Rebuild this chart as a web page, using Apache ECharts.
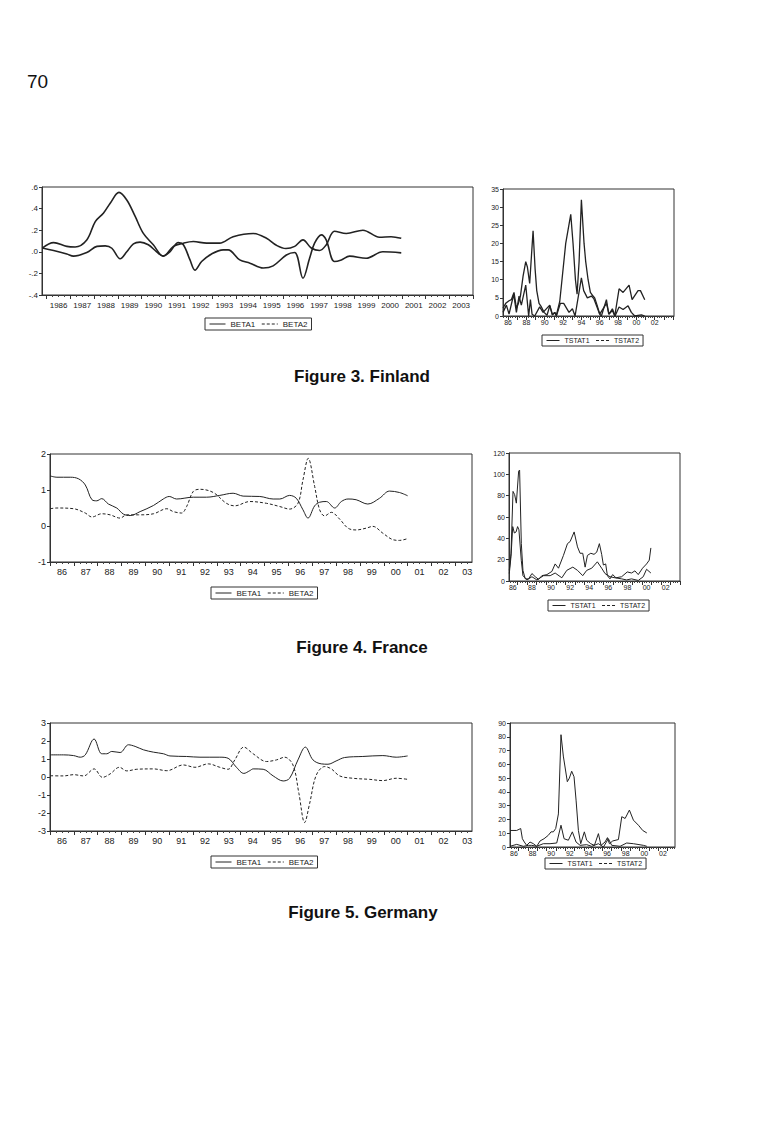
<!DOCTYPE html>
<html>
<head>
<meta charset="utf-8">
<script src="https://cdn.jsdelivr.net/npm/echarts@6/dist/echarts.min.js"></script>
<style>html,body{margin:0;padding:0;background:#fff;}</style>
</head>
<body>
<div id="main" style="width:775px;height:1137px"></div>
<script>
// 年份标签
const longYears = ['1986','1987','1988','1989','1990','1991','1992','1993','1994','1995','1996','1997','1998','1999','2000','2001','2002','2003'];
const shortYears = ['86','87','88','89','90','91','92','93','94','95','96','97','98','99','00','01','02','03'];
const tstatYears = ['86','88','90','92','94','96','98','00','02'];

// Figure 3. Finland
const finBeta1 = [[1985.81,0.035],[1986.29,0.085],[1986.85,0.05],[1987.2,0.045],[1987.69,0.11],[1988.05,0.28],[1988.4,0.36],[1988.68,0.45],[1989.05,0.55],[1989.38,0.48],[1989.73,0.33],[1990.08,0.17],[1990.5,0.065],[1990.92,-0.04],[1991.35,0.05],[1991.77,0.08],[1992.19,0.095],[1992.75,0.08],[1993.3,0.08],[1993.87,0.14],[1994.72,0.17],[1995.28,0.125],[1995.7,0.06],[1996.1,0.03],[1996.47,0.05],[1996.82,0.11],[1997.17,0.035],[1997.52,0.012],[1997.8,0.064],[1998.15,0.19],[1998.65,0.17],[1999.35,0.2],[2000.05,0.135],[2000.54,0.14],[2000.97,0.125]];
const finBeta2 = [[1985.81,0.035],[1986.29,0.012],[1986.85,-0.02],[1987.13,-0.04],[1987.69,-0.007],[1988.12,0.05],[1988.47,0.055],[1988.75,0.033],[1989.1,-0.065],[1989.38,0.0],[1989.66,0.074],[1989.94,0.09],[1990.29,0.065],[1990.64,0.0],[1990.92,-0.04],[1991.2,0.0],[1991.56,0.086],[1991.77,0.065],[1992.05,-0.075],[1992.26,-0.17],[1992.54,-0.09],[1992.96,-0.02],[1993.45,0.018],[1993.66,0.018],[1994.15,-0.075],[1994.58,-0.105],[1995.14,-0.15],[1995.56,-0.13],[1996.12,-0.03],[1996.47,-0.007],[1996.82,-0.245],[1997.1,-0.06],[1997.31,0.08],[1997.6,0.157],[1997.8,0.11],[1998.15,-0.09],[1998.44,-0.075],[1998.79,-0.04],[1999.49,-0.06],[2000.19,0.0],[2000.97,-0.01]];
const finTstat1 = [[1985.45,2.2],[1985.75,3.5],[1986.11,4.2],[1986.36,4.5],[1986.65,6.5],[1986.91,2.2],[1987.13,3.5],[1987.35,5.5],[1987.64,11],[1987.93,15],[1988.11,13.5],[1988.36,9],[1988.73,23.5],[1988.95,13],[1989.13,7],[1989.38,3.5],[1989.64,2.5],[1989.93,1],[1990.25,0.2],[1990.55,2.8],[1990.84,0.3],[1991.09,1],[1991.27,0.2],[1991.64,4],[1992.29,20],[1992.84,28],[1993.09,20],[1993.35,10],[1993.53,6],[1993.75,15],[1994.0,32],[1994.29,20],[1994.47,15],[1994.73,10],[1994.98,6.5],[1995.27,5.5],[1995.45,5],[1995.71,3],[1996.0,0.5],[1996.18,0],[1996.73,4.5],[1996.98,0.5],[1997.38,1.5],[1997.64,0],[1998.11,7.5],[1998.55,6.5],[1999.2,8.5],[1999.53,4.5],[2000.18,7],[2000.44,7],[2000.91,4.5]];
const finTstat2 = [[1985.45,1],[1985.82,3],[1986.11,0.5],[1986.62,6],[1986.91,1],[1987.2,5.5],[1987.45,3],[1987.93,8.5],[1988.25,0],[1988.44,4.5],[1988.62,0.5],[1988.91,0],[1989.45,2.5],[1989.82,1],[1990.55,3],[1990.84,0.3],[1991.09,1],[1991.27,0],[1991.71,3.5],[1992.07,3.5],[1992.65,1],[1993.02,2],[1993.31,0],[1994.0,10.5],[1994.25,7],[1994.65,5],[1995.09,5.5],[1995.35,4.8],[1996.0,0.5],[1996.73,3.5],[1997.02,0.5],[1997.38,2],[1997.67,0],[1998.11,2.5],[1998.55,1.8],[1999.09,2.8],[1999.45,1],[1999.82,0],[2000.55,0.3],[2000.91,0]];

// Figure 4. France
const fraBeta1 = [[1986.01,1.39],[1986.29,1.355],[1986.85,1.355],[1987.2,1.31],[1987.48,1.14],[1987.76,0.73],[1987.96,0.7],[1988.17,0.76],[1988.45,0.61],[1988.8,0.5],[1989.08,0.33],[1989.36,0.29],[1989.78,0.4],[1990.34,0.57],[1990.75,0.75],[1991.0,0.82],[1991.31,0.75],[1992.01,0.8],[1992.57,0.8],[1993.12,0.85],[1993.68,0.91],[1994.1,0.83],[1994.8,0.82],[1995.36,0.75],[1995.64,0.75],[1996.05,0.85],[1996.33,0.77],[1996.61,0.45],[1996.82,0.22],[1997.1,0.56],[1997.31,0.66],[1997.59,0.68],[1997.94,0.5],[1998.22,0.68],[1998.5,0.75],[1998.84,0.73],[1999.33,0.61],[1999.82,0.77],[2000.24,0.97],[2000.66,0.93],[2001.0,0.84]];
const fraBeta2 = [[1986.01,0.48],[1986.29,0.5],[1986.99,0.48],[1987.48,0.36],[1987.76,0.25],[1988.17,0.34],[1988.52,0.31],[1988.94,0.22],[1989.22,0.31],[1989.71,0.31],[1990.34,0.34],[1990.9,0.48],[1991.17,0.4],[1991.52,0.36],[1991.73,0.54],[1992.01,0.96],[1992.29,1.02],[1992.85,0.93],[1993.4,0.63],[1993.75,0.56],[1994.38,0.68],[1995.08,0.63],[1995.64,0.54],[1996.05,0.47],[1996.4,0.63],[1996.61,1.28],[1996.83,1.88],[1997.1,1.1],[1997.31,0.45],[1997.52,0.28],[1997.8,0.38],[1998.15,0.19],[1998.5,-0.06],[1998.84,-0.11],[1999.26,-0.06],[1999.54,-0.01],[1999.96,-0.2],[2000.38,-0.38],[2000.66,-0.4],[2001.0,-0.35]];
const fraTstat1 = [[1986.13,10],[1986.31,26],[1986.52,84],[1986.69,81],[1986.87,73],[1987.11,103],[1987.21,104],[1987.39,35],[1987.56,10],[1987.8,2],[1988.15,2],[1988.5,7],[1988.85,4],[1989.2,1.5],[1989.54,5],[1990.07,6],[1990.59,9],[1990.93,16],[1991.28,12],[1991.8,24],[1992.22,35],[1992.5,37],[1992.92,46],[1993.27,32],[1993.54,26],[1993.82,26],[1994.07,13],[1994.31,24],[1994.66,26],[1995.0,25],[1995.28,27],[1995.56,35],[1995.8,25],[1995.98,15],[1996.22,16],[1996.4,5],[1996.67,2],[1996.95,6],[1997.3,3],[1997.89,4],[1998.48,8.5],[1998.93,7.5],[1999.28,9.5],[1999.63,6],[2000.08,12],[2000.5,16],[2000.78,19.5],[2000.95,31]];
const fraTstat2 = [[1986.13,7],[1986.31,23],[1986.49,51],[1986.66,45],[1986.84,46],[1987.0,51],[1987.14,48],[1987.39,19],[1987.56,5],[1987.98,1],[1988.5,4],[1989.02,1],[1989.72,5],[1990.41,5],[1990.93,7.5],[1991.63,3],[1992.15,10],[1992.78,13],[1993.27,10],[1993.82,5],[1994.24,10],[1994.76,12],[1995.35,18],[1995.8,12],[1996.15,7],[1996.67,4],[1997.2,3],[1997.89,2],[1998.41,1],[1998.93,2],[1999.63,0.5],[2000.15,4],[2000.5,11],[2000.95,7.5]];

// Figure 5. Germany
const gerBeta1 = [[1986.01,1.23],[1986.57,1.23],[1986.99,1.19],[1987.27,1.1],[1987.48,1.23],[1987.85,2.11],[1988.17,1.29],[1988.38,1.29],[1988.59,1.42],[1988.94,1.36],[1989.29,1.79],[1989.57,1.7],[1989.92,1.51],[1990.34,1.38],[1990.76,1.29],[1991.03,1.17],[1991.73,1.14],[1992.29,1.1],[1993.12,1.1],[1993.47,1.04],[1993.82,0.54],[1994.13,0.2],[1994.38,0.35],[1994.52,0.45],[1994.94,0.43],[1995.36,0.06],[1995.78,-0.22],[1996.05,-0.07],[1996.4,0.95],[1996.71,1.66],[1997.03,0.95],[1997.38,0.73],[1997.66,0.71],[1998.0,0.89],[1998.35,1.08],[1999.12,1.14],[1999.96,1.19],[2000.52,1.1],[2001.0,1.17]];
const gerBeta2 = [[1986.01,0.07],[1986.57,0.06],[1986.99,0.13],[1987.41,0.06],[1987.85,0.45],[1988.2,-0.02],[1988.52,0.17],[1988.91,0.54],[1989.22,0.34],[1989.64,0.43],[1990.34,0.45],[1990.9,0.35],[1991.59,0.67],[1992.08,0.54],[1992.64,0.73],[1993.12,0.54],[1993.47,0.43],[1993.75,0.95],[1994.13,1.66],[1994.52,1.29],[1995.08,0.86],[1995.5,0.95],[1995.84,1.1],[1996.19,0.67],[1996.44,-0.91],[1996.68,-2.53],[1996.89,-1.47],[1997.17,0.11],[1997.52,0.58],[1997.8,0.45],[1998.15,0.06],[1998.7,-0.07],[1999.4,-0.13],[1999.96,-0.2],[2000.52,-0.07],[2001.0,-0.13]];
const gerTstat1 = [[1986.07,12],[1986.79,12],[1987.22,13.4],[1987.4,6],[1987.61,3.6],[1987.86,1.2],[1988.22,3.6],[1988.58,2.4],[1988.94,0.5],[1989.3,4.4],[1989.73,6],[1990.19,8.5],[1990.48,11],[1990.73,11],[1990.98,13.4],[1991.27,24],[1991.55,81.5],[1991.8,66],[1992.23,47.4],[1992.45,50],[1992.7,55],[1992.95,51],[1993.17,34],[1993.42,12],[1993.67,2.4],[1994.06,11],[1994.31,4.9],[1994.74,2.4],[1995.14,1.2],[1995.57,9.7],[1995.85,1.2],[1996.28,3.6],[1996.54,6.8],[1996.75,2.4],[1997.11,4.4],[1997.72,5.4],[1998.08,22],[1998.44,20.7],[1998.9,26.8],[1999.33,19.5],[1999.87,15.8],[2000.33,12],[2000.77,10.2]];
const gerTstat2 = [[1986.07,0.5],[1986.79,1.9],[1987.5,0.5],[1988.04,1.2],[1988.4,1.2],[1988.94,0.5],[1989.65,2.4],[1990.37,2.4],[1991.09,2.9],[1991.55,15.8],[1991.88,6],[1992.34,4.9],[1992.77,11],[1993.17,3.6],[1993.6,1.2],[1994.31,1.7],[1994.85,0.5],[1995.57,2.4],[1996.11,0],[1996.64,6],[1997.0,1.2],[1997.9,0.5],[1998.61,2.9],[1999.33,2.4],[2000.41,1.2],[2000.77,0.5]];

const FONT = '"Liberation Sans", Arial, sans-serif';
const INK = '#222';

function fullYear(s) { return +s < 50 ? 2000 + +s : 1900 + +s; }
function yearTicks(a, b) { let r = []; for (let y = Math.ceil(a); y <= b; y++) r.push(y); return r; }
function quarterTicks(a, b) { let r = []; for (let q = Math.ceil(a * 4); q <= b * 4; q++) if (q % 4) r.push(q / 4); return r; }
function dotFmt(v) { return v.toFixed(1).replace('0.', '.'); }

let myChart = echarts.init(document.getElementById('main'), null, { renderer: 'svg' });
let option = {
    backgroundColor: '#fff',
    animation: false,
    textStyle: { fontFamily: FONT, color: INK },
    grid: [], xAxis: [], yAxis: [], series: [], legend: [],
    graphic: [
        { type: 'text', left: 27, top: 72, style: { text: '70', font: '19px ' + FONT, fill: '#111' } },
        { type: 'text', x: 362, y: 376, style: { text: 'Figure 3. Finland', font: 'bold 17px ' + FONT, fill: '#111', textAlign: 'center', textVerticalAlign: 'middle' } },
        { type: 'text', x: 362, y: 647, style: { text: 'Figure 4. France', font: 'bold 17px ' + FONT, fill: '#111', textAlign: 'center', textVerticalAlign: 'middle' } },
        { type: 'text', x: 363, y: 912, style: { text: 'Figure 5. Germany', font: 'bold 17px ' + FONT, fill: '#111', textAlign: 'center', textVerticalAlign: 'middle' } }
    ]
};

function addPanel(p) {
    let gi = option.grid.length;
    option.grid.push({ left: p.box[0], top: p.box[1], width: p.box[2], height: p.box[3], show: true, borderColor: '#333', borderWidth: 1 });
    // 年份刻度 + 标签
    option.xAxis.push({
        type: 'value', gridIndex: gi, min: p.xMin, max: p.xMax, position: 'bottom',
        splitLine: { show: false },
        axisLine: { onZero: false, lineStyle: { color: '#333', width: 1 } },
        axisTick: { customValues: yearTicks(p.xMin, p.xMax), length: 4, lineStyle: { color: '#333' } },
        axisLabel: { customValues: p.labelPos, formatter: p.labelFmt, fontSize: p.fs, color: INK, margin: p.xMargin, fontFamily: FONT }
    });
    let xi = option.xAxis.length - 1;
    // 季度小刻度
    option.xAxis.push({
        type: 'value', gridIndex: gi, min: p.xMin, max: p.xMax, position: 'bottom',
        splitLine: { show: false }, axisLine: { show: false, onZero: false }, axisLabel: { show: false },
        axisTick: { customValues: quarterTicks(p.xMin, p.xMax), length: 2, lineStyle: { color: '#444' } }
    });
    option.yAxis.push({
        type: 'value', gridIndex: gi, min: p.yMin, max: p.yMax, interval: p.yStep,
        splitLine: { show: false },
        axisLine: { show: true, onZero: false, lineStyle: { color: '#333' } },
        axisTick: { show: true, length: 3, lineStyle: { color: '#333' } },
        axisLabel: { formatter: p.yFmt, fontSize: p.fs, color: INK, margin: 4, fontFamily: FONT }
    });
    let yi = option.yAxis.length - 1;
    p.lines.forEach(function (s) {
        option.series.push({
            type: 'line', name: s.name, data: s.data, xAxisIndex: xi, yAxisIndex: yi,
            symbol: 'none', smooth: p.smooth, silent: true,
            itemStyle: { color: INK },
            lineStyle: { color: INK, width: s.width, type: s.dash || 'solid' }
        });
    });
    // 图例框
    option.legend.push({
        left: p.legend[0], top: p.legend[1], orient: 'horizontal',
        borderColor: '#333', borderWidth: 1, borderRadius: 0, padding: [2, 4, 2, 4],
        itemWidth: p.legendIcon, itemHeight: 6, itemGap: 6, selectedMode: false,
        itemStyle: { opacity: 0, borderWidth: 0 },
        textStyle: { fontSize: p.legendFs, color: INK, fontFamily: FONT },
        data: [ { name: p.lines[0].name, lineStyle: { width: 1 } }, { name: p.lines[1].name, lineStyle: { type: [3, 2], width: 1 } } ]
    });
}

addPanel({ box: [42, 187, 431, 108], xMin: 1985.8, xMax: 2004, yMin: -0.4, yMax: 0.6, yStep: 0.2, yFmt: dotFmt,
    labelPos: longYears.map(s => +s + 0.5), labelFmt: v => String(Math.floor(v)), fs: 8, xMargin: 6, smooth: 0.35,
    lines: [ { name: 'BETA1', data: finBeta1, width: 1.6 }, { name: 'BETA2', data: finBeta2, width: 1.6 } ],
    legend: [205, 318], legendIcon: 16, legendFs: 8 });
addPanel({ box: [503, 189, 171, 127], xMin: 1985.45, xMax: 2004.1, yMin: 0, yMax: 35, yStep: 5, yFmt: '{value}',
    labelPos: tstatYears.map(s => fullYear(s)), labelFmt: v => String(Math.floor(v)).slice(2), fs: 7, xMargin: 3, smooth: false,
    lines: [ { name: 'TSTAT1', data: finTstat1, width: 1.3 }, { name: 'TSTAT2', data: finTstat2, width: 1.3 } ],
    legend: [542, 335], legendIcon: 13, legendFs: 7 });

addPanel({ box: [50, 454, 422, 108], xMin: 1986, xMax: 2003.7, yMin: -1, yMax: 2, yStep: 1, yFmt: '{value}',
    labelPos: shortYears.map(s => fullYear(s) + 0.5), labelFmt: v => String(Math.floor(v)).slice(2), fs: 9, xMargin: 5, smooth: 0.35,
    lines: [ { name: 'BETA1', data: fraBeta1, width: 1 }, { name: 'BETA2', data: fraBeta2, width: 1, dash: [3, 2] } ],
    legend: [211, 587], legendIcon: 16, legendFs: 8 });
addPanel({ box: [509, 453, 171, 128], xMin: 1986.1, xMax: 2004, yMin: 0, yMax: 120, yStep: 20, yFmt: '{value}',
    labelPos: tstatYears.map(s => fullYear(s) + 0.5), labelFmt: v => String(Math.floor(v)).slice(2), fs: 7, xMargin: 3, smooth: false,
    lines: [ { name: 'TSTAT1', data: fraTstat1, width: 1 }, { name: 'TSTAT2', data: fraTstat2, width: 1 } ],
    legend: [548, 600], legendIcon: 13, legendFs: 7 });

addPanel({ box: [50, 723, 422, 108], xMin: 1986, xMax: 2003.7, yMin: -3, yMax: 3, yStep: 1, yFmt: '{value}',
    labelPos: shortYears.map(s => fullYear(s) + 0.5), labelFmt: v => String(Math.floor(v)).slice(2), fs: 9, xMargin: 5, smooth: 0.35,
    lines: [ { name: 'BETA1', data: gerBeta1, width: 1 }, { name: 'BETA2', data: gerBeta2, width: 1, dash: [3, 2] } ],
    legend: [211, 856], legendIcon: 16, legendFs: 8 });
addPanel({ box: [510, 723, 165, 124], xMin: 1986.07, xMax: 2003.8, yMin: 0, yMax: 90, yStep: 10, yFmt: '{value}',
    labelPos: tstatYears.map(s => fullYear(s) + 0.5), labelFmt: v => String(Math.floor(v)).slice(2), fs: 7, xMargin: 3, smooth: false,
    lines: [ { name: 'TSTAT1', data: gerTstat1, width: 1 }, { name: 'TSTAT2', data: gerTstat2, width: 1 } ],
    legend: [545, 858], legendIcon: 13, legendFs: 7 });

myChart.setOption(option);
</script>
</body>
</html>
